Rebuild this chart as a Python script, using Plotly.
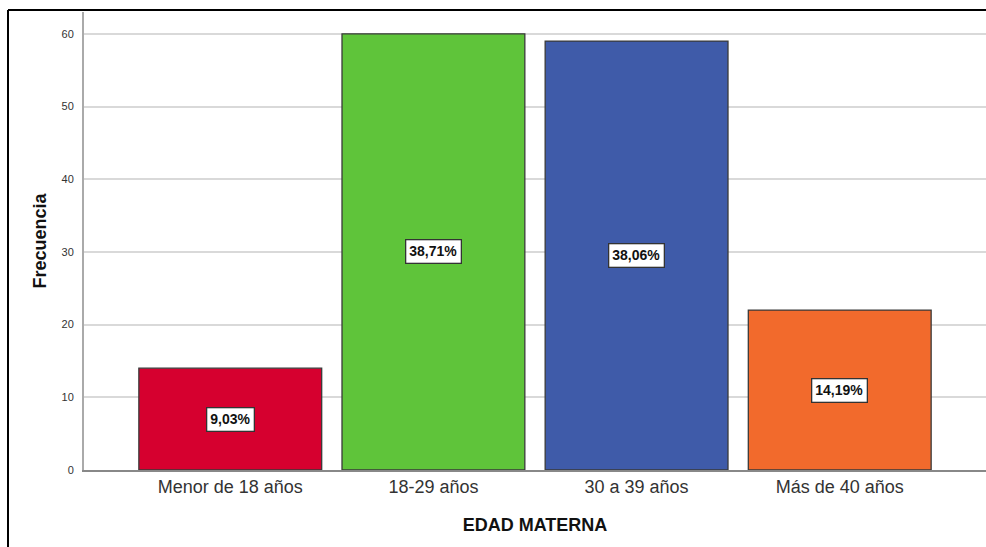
import plotly.graph_objects as go

# Frecuencias por grupo de edad materna
categorias = ["Menor de 18 años", "18-29 años", "30 a 39 años", "Más de 40 años"]
frecuencias = [14, 60, 59, 22]
porcentajes = ["9,03%", "38,71%", "38,06%", "14,19%"]
colores = ["#D6002F", "#5FC43A", "#3F5BA9", "#F26A2C"]
y_ticks = [0, 10, 20, 30, 40, 50, 60]

W, H = 986, 547
ML, MR, MT, MB = 84, 0, 12, 77

fig = go.Figure()
fig.add_trace(go.Bar(
    x=list(range(len(categorias))),
    y=frecuencias,
    marker=dict(color=colores, line=dict(color="#3a3a3a", width=1.3)),
    width=0.9,
    hoverinfo="skip",
))

# Etiquetas de porcentaje centradas en cada barra
for i, (v, p) in enumerate(zip(frecuencias, porcentajes)):
    fig.add_annotation(
        x=i, y=v / 2, text=f"<b>{p}</b>", showarrow=False,
        font=dict(family="Liberation Sans Narrow, Arial Narrow, Liberation Sans", size=14, color="#111"),
        bgcolor="white", bordercolor="#333", borderwidth=1.3, borderpad=3,
    )

# Marco exterior (arriba e izquierda)
pw = W - ML - MR
ph = H - MT - MB
x_left = (8 - ML) / pw
y_top = (H - MB - 10) / ph
fig.add_shape(type="line", xref="paper", yref="paper", x0=x_left, x1=1.01,
              y0=y_top, y1=y_top, line=dict(color="black", width=2))
fig.add_shape(type="line", xref="paper", yref="paper", x0=x_left, x1=x_left,
              y0=y_top, y1=-0.2, line=dict(color="black", width=2))

fig.update_layout(
    width=W, height=H,
    margin=dict(l=ML, r=MR, t=MT, b=MB),
    paper_bgcolor="white", plot_bgcolor="white",
    showlegend=False,
    font=dict(family="Liberation Sans, Arial", color="#333"),
    xaxis=dict(
        range=[-0.72, 3.72],
        tickmode="array", tickvals=list(range(len(categorias))), ticktext=categorias,
        tickfont=dict(size=18, color="#333"),
        showgrid=False, zeroline=False,
        showline=True, linecolor="#888", linewidth=1.5,
        ticks="",
        title=dict(text="<b>EDAD MATERNA</b>", font=dict(size=18, color="#111"), standoff=22),
    ),
    yaxis=dict(
        range=[0, 63],
        tickmode="array", tickvals=y_ticks,
        tickfont=dict(size=11, color="#333"),
        showgrid=True, gridcolor="#d9d9d9", gridwidth=1.5,
        zeroline=False,
        showline=True, linecolor="#aaa", linewidth=2,
        ticks="", ticklabelstandoff=6,
        title=dict(text="<b>Frecuencia</b>", font=dict(size=18, color="#111"), standoff=10),
    ),
)

fig.write_html("out.html")
